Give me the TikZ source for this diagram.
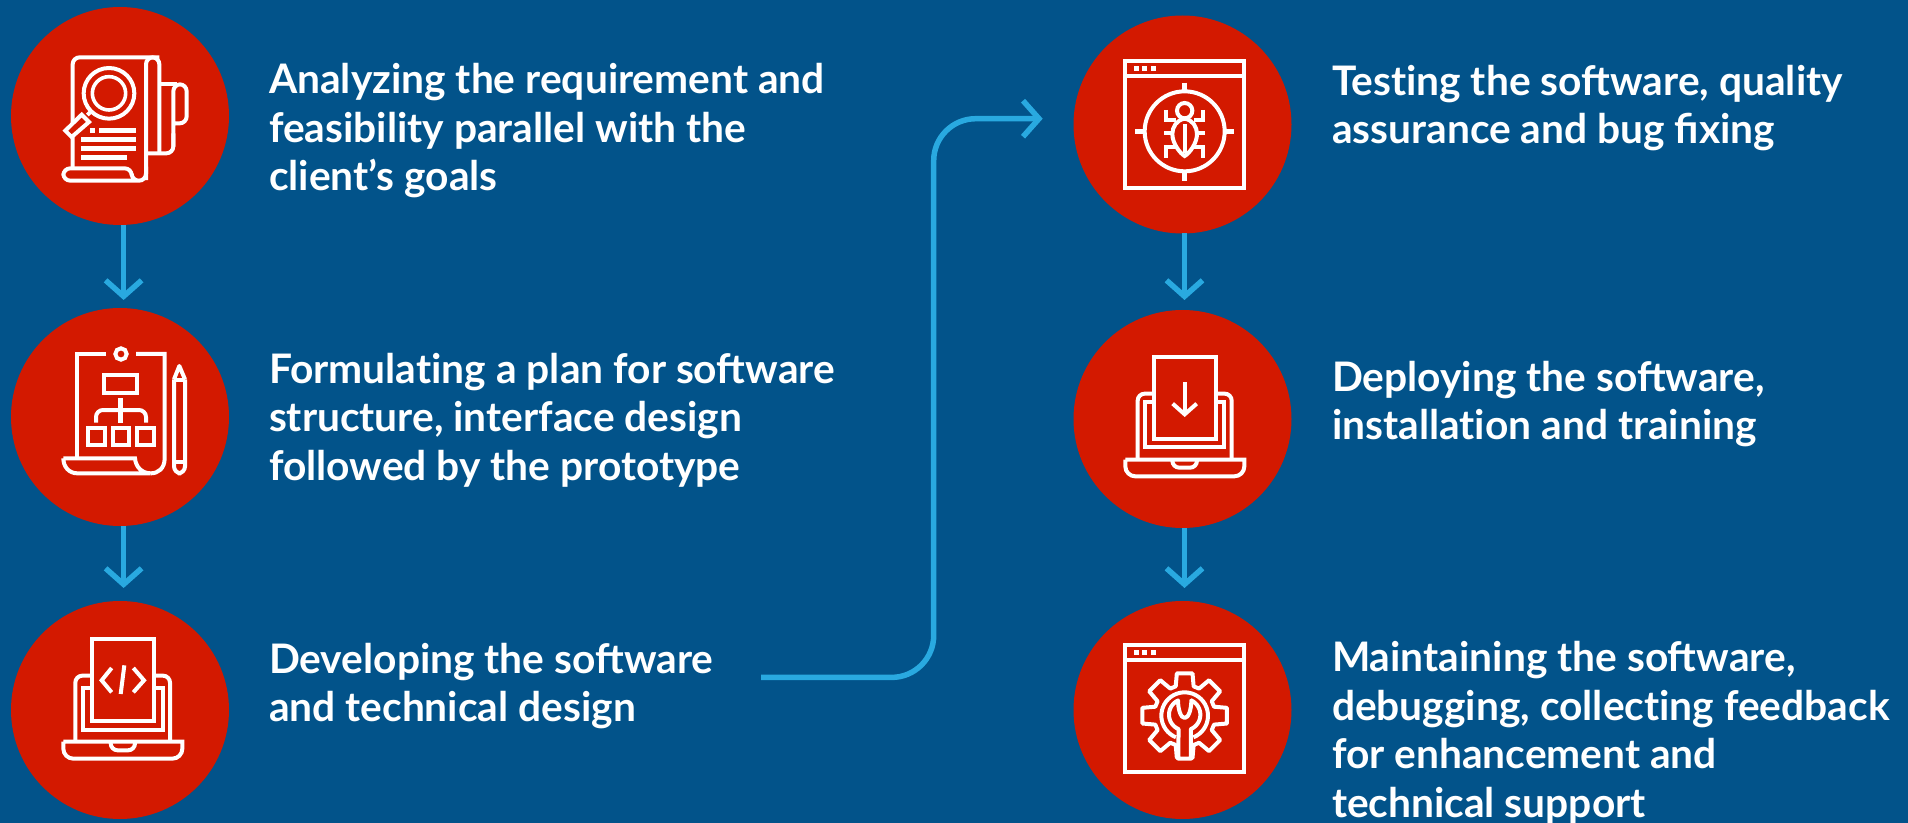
\documentclass[tikz,border=0pt]{standalone}
\usepackage{fontspec}
\setmainfont{Lato}
\usetikzlibrary{arrows.meta}
\definecolor{bgblue}{HTML}{02538A}
\definecolor{redc}{HTML}{D31900}
\definecolor{arrowblue}{HTML}{29A9E0}
\newcommand{\fl}{\rule{0pt}{17pt}}
\newcommand{\nl}{\kern0pt }
\tikzset{
  circ/.style={circle,fill=redc,minimum size=109pt,inner sep=0pt,outer sep=0pt},
  arr/.style={draw=arrowblue,line width=2.75pt,-{Straight Barb[length=8pt,width=18pt]}},
  lbl/.style={text=white,inner sep=0pt,outer sep=0pt,anchor=north west,align=left,
    font=\fontsize{20.35}{24.3}\selectfont\bfseries},
  zm/.style 2 args={shift={(#1,#2)},x=0.16667pt,y=-0.16667pt},
  ic/.style={draw=white,line width=2pt},
  icr/.style={ic,rounded corners=3.5pt},
  dotf/.style={fill=white,draw=none},
}
\begin{document}
\begin{tikzpicture}[x=0.5pt,y=-0.5pt]
\useasboundingbox (0,0) rectangle (1908,823);
\fill[bgblue] (0,0) rectangle (1908,823);
% circles
\node[circ] (c1) at (120,116) {};
\node[circ] (c2) at (120,417) {};
\node[circ] (c3) at (120,710) {};
\node[circ] (c4) at (1182.5,124.5) {};
\node[circ] (c5) at (1182.5,419) {};
\node[circ] (c6) at (1182.5,710) {};
% connectors
\draw[arr,shorten >=4pt] ([xshift=1.8pt]c1.south) -- ([xshift=1.8pt]c2.north);
\draw[arr,shorten >=6.5pt] ([xshift=1.8pt]c2.south) -- ([xshift=1.8pt]c3.north);
\draw[arr,shorten >=5pt] ([xshift=1pt]c4.south) -- ([xshift=1pt]c5.north);
\draw[arr,shorten >=6.5pt] ([xshift=1pt]c5.south) -- ([xshift=1pt]c6.north);
\coordinate (es) at (761,677.4);
\coordinate (em) at (933.7,400);
\coordinate (ee) at (1042.7,118.7);
\draw[arr,rounded corners=21pt] (es) -| (em) |- (ee);
% labels
\node[lbl] (t1) at (269,59.5) {\fl Analyzing the requirement and\\feasibility parallel with the\\client’s goals};
\node[lbl] (t2) at (269,349.3) {\fl Formulat\nl ing a plan for software\\structure, interface design\\followed by the prototype};
\node[lbl] (t3) at (269,639) {\fl Developing the software\\and technical design};
\node[lbl] (t4) at (1332,61.2) {\fl Test\nl ing the software, quality\\assurance and bug fixing};
\node[lbl] (t5) at (1332,357.2) {\fl Deploying the software,\\installat\nl ion and training};
\node[lbl] (t6) at (1332,637.7) {\fl Maintaining the software,\\debugging, collect\nl ing feedback\\for enhancement and\\technical support};
% icon 1
\begin{scope}[zm={0}{0}]
  \draw[icr] (218,505) -- (218,172) -- (478,172) -- (478,460);
  \draw[icr] (438,540) -- (438,172) -- (478,172);
  \draw[icr] (438,500) -- (438,542) -- (190,542) -- (190,505) -- (395,505) -- (395,542) -- (420,542);
  \draw[ic] (484,253) -- (530,253);
  \draw[icr] (520,440) -- (520,253) -- (560,253) -- (560,370) -- (525,370);
  \draw[icr] (520,400) -- (520,460) -- (440,460);
  \draw[ic,fill=redc] (196,392) -- (245,344) -- (267,366) -- (215,411) -- cycle;
  \draw[ic] (262,345) -- (285,323);
  \draw[ic,fill=redc] (327,280) circle[radius=76];
  \draw[ic,line width=1.8pt] (327,280) circle[radius=50];
  \fill[dotf] (270,384) rectangle (285,399);
  \fill[dotf] (297,384) rectangle (408,399);
  \fill[dotf] (243,411) rectangle (408,426);
  \fill[dotf] (243,438) rectangle (408,453);
  \fill[dotf] (243,465) rectangle (381,480);
\end{scope}
% icon 2
\begin{scope}[zm={0}{290}]
  \draw[ic] (318,192) -- (232,192) -- (232,505);
  \draw[ic] (408,192) -- (494,192) -- (494,505) .. controls (494,535) and (475,550) .. (452,550);
  \draw[ic] (363,192) circle[radius=17];
  \draw[ic] (190,505) -- (405,505) .. controls (407,530) and (425,550) .. (452,550) -- (232,550) .. controls (207,550) and (190,530) .. (190,505);
  \draw[ic] (313,256) rectangle (412,308);
  \draw[ic,line width=2.3pt] (362,325) -- (362,398);
  \draw[icr] (288,398) -- (288,360) -- (438,360) -- (438,398);
  \draw[ic] (264,414) rectangle (314,464);
  \draw[ic] (338,414) rectangle (388,464);
  \draw[ic] (412,414) rectangle (462,464);
  \draw[ic,line join=round] (522,268) -- (538,228) -- (555,268);
  \draw[icr] (522,268) -- (522,550) -- (555,550) -- (555,268);
  \draw[ic] (522,270) -- (555,270);
  \draw[ic] (522,515) -- (555,515);
\end{scope}
% icon 3
\begin{scope}[zm={0}{583}]
  \draw[ic] (275,167) rectangle (461,415);
  \draw[icr] (226,476) -- (226,278) -- (270,278);
  \draw[icr] (461,278) -- (510,278) -- (510,476);
  \draw[ic] (270,315) -- (250,315) -- (250,440) -- (488,440) -- (488,315) -- (466,315);
  \draw[ic] (190,476) -- (547,476) [rounded corners=5pt] -- (547,527) -- (190,527) -- (190,476);
  \draw[icr] (332,478) -- (332,502) -- (405,502) -- (405,478);
  \draw[ic] (335,255) -- (305,292) -- (335,328);
  \draw[ic] (400,255) -- (432,292) -- (400,328);
  \draw[ic] (373,247) -- (362,333);
\end{scope}
% icon 4
\begin{scope}[zm={1065}{10}]
  \draw[ic] (181,154) rectangle (538,534);
  \draw[ic] (181,198) -- (538,198);
  \fill[dotf] (207,168) rectangle (222,183);
  \fill[dotf] (231,168) rectangle (246,183);
  \fill[dotf] (258,168) rectangle (273,183);
  \draw[ic] (359,364) circle[radius=120];
  \draw[ic,line width=2.5pt] (359,218) -- (359,243);
  \draw[ic,line width=2.5pt] (359,488) -- (359,513);
  \draw[ic,line width=2.5pt] (210,364) -- (235,364);
  \draw[ic,line width=2.5pt] (483,364) -- (507,364);
  \draw[ic] (359,302) circle[radius=23];
  \draw[ic] (359,326) .. controls (335,330) and (322,350) .. (322,372) .. controls (322,400) and (345,430) .. (359,438) .. controls (373,430) and (396,400) .. (396,372) .. controls (396,350) and (383,330) .. (359,326) -- cycle;
  \draw[ic] (359,342) -- (359,428);
  \draw[ic] (303,300) -- (303,331) -- (332,331);
  \draw[ic] (415,300) -- (415,331) -- (386,331);
  \draw[ic] (297,370) -- (322,370);
  \draw[ic] (396,370) -- (420,370);
  \draw[ic] (303,444) -- (303,410) -- (332,410);
  \draw[ic] (415,444) -- (415,410) -- (386,410);
\end{scope}
% icon 5
\begin{scope}[zm={1065}{295}]
  \draw[ic] (267,185) rectangle (452,432);
  \draw[icr] (218,494) -- (218,296) -- (262,296);
  \draw[icr] (458,296) -- (500,296) -- (500,494);
  \draw[ic] (262,321) -- (241,321) -- (241,457) -- (478,457) -- (478,321) -- (458,321);
  \draw[ic] (181,494) -- (538,494) [rounded corners=5pt] -- (538,544) -- (181,544) -- (181,494);
  \draw[icr] (322,496) -- (322,518) -- (396,518) -- (396,496);
  \draw[ic] (359,262) -- (359,355);
  \draw[ic] (323,326) -- (359,358) -- (395,326);
\end{scope}
% icon 6
\begin{scope}[zm={1065}{583}]
  \draw[ic] (181,186) rectangle (538,566);
  \draw[ic] (181,230) -- (538,230);
  \fill[dotf] (207,200) rectangle (222,215);
  \fill[dotf] (231,200) rectangle (246,215);
  \fill[dotf] (258,200) rectangle (273,215);
  \begin{scope}[shift={(359,398)}]
    \draw[ic,line join=round] (-17:92) \foreach \a in {0,45,...,315} {
        -- ({\a-10.5}:129) -- ({\a+10.5}:129) -- ({\a+17}:92) -- ({\a+28}:92)
      } -- cycle;
    \draw[ic] plot[smooth,domain=112:428,samples=40,variable=\t] ({70*cos(\t)},{70*sin(\t)});
    \draw[ic,fill=redc,line join=round] (-19,129) -- plot[domain=113:245,samples=30,variable=\t] ({47*cos(\t)},{-3+47*sin(\t)})
      .. controls (-20,-20) and (-12,7) .. (0,7) .. controls (12,7) and (20,-20) .. (20,-46)
      -- plot[domain=-65:67,samples=30,variable=\t] ({47*cos(\t)},{-3+47*sin(\t)})
      -- (19,129) -- cycle;
  \end{scope}
\end{scope}
\end{tikzpicture}
\end{document}
